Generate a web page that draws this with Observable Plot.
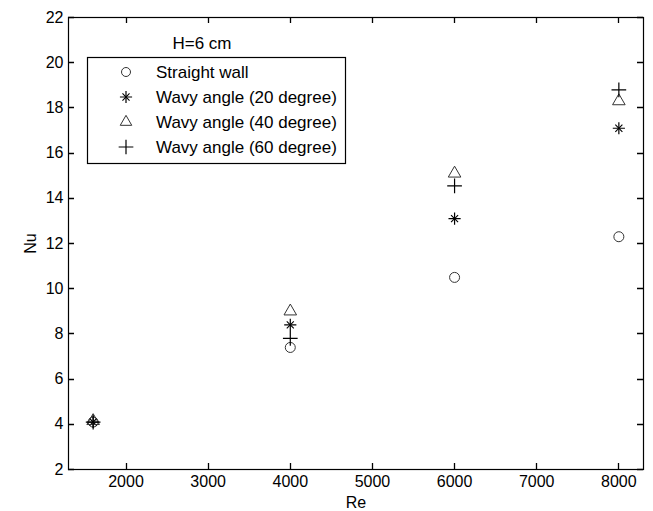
<!DOCTYPE html>
<html>
<head>
<meta charset="utf-8">
<script src="https://cdn.jsdelivr.net/npm/d3@7"></script>
<script src="https://cdn.jsdelivr.net/npm/@observablehq/plot@0.6"></script>
<style>
  html, body { margin: 0; padding: 0; background: #fff; }
  #chart { width: 653px; height: 511px; overflow: hidden; }
  svg { font-family: "Liberation Sans", Arial, sans-serif; }
</style>
</head>
<body>
<div id="chart"></div>
<script>
// ---- data ----
const reValues = [1600, 4000, 6000, 8000];
const straightWall = [4.1, 7.4, 10.5, 12.3];
const wavy20 = [4.1, 8.4, 13.1, 17.1];
const wavy40 = [4.15, 9.0, 15.1, 18.3];
const wavy60 = [4.1, 7.8, 14.55, 18.8];
const xTicks = [2000, 3000, 4000, 5000, 6000, 7000, 8000];
const yTicks = [2, 4, 6, 8, 10, 12, 14, 16, 18, 20, 22];
const seriesNames = ["Straight wall", "Wavy angle (20 degree)", "Wavy angle (40 degree)", "Wavy angle (60 degree)"];
const legendTitle = "H=6 cm";

const W = 653, H = 511;
const mL = 68, mR = 10, mT = 17, mB = 42;
const xDomain = [1300, 8300], yDomain = [2, 22];
const tickLen = 6;

const rows = (ys) => reValues.map((x, i) => ({x, y: ys[i]}));

const chart = Plot.plot({
  width: W,
  height: H,
  marginLeft: mL,
  marginRight: mR,
  marginTop: mT,
  marginBottom: mB,
  style: {fontFamily: '"Liberation Sans", Arial, sans-serif', fontSize: "16px", background: "#fff", color: "#000"},
  x: {domain: xDomain},
  y: {domain: yDomain},
  marks: [
    Plot.axisX({ticks: xTicks, tickSize: 0, tickPadding: 6, tickFormat: d => String(d), fontSize: 16,
      label: "Re", labelAnchor: "center", labelArrow: "none", labelOffset: 38}),
    Plot.axisY({ticks: yTicks, tickSize: 0, tickPadding: 5, tickFormat: d => String(d), fontSize: 16,
      label: "Nu", labelAnchor: "center", labelArrow: "none", labelOffset: 44}),
    Plot.frame({stroke: "#000", strokeWidth: 1.2}),
    // data
    Plot.dot(rows(straightWall), {x: "x", y: "y", symbol: "circle", r: 5, fill: "none", stroke: "#333", strokeWidth: 1}),
    Plot.dot(rows(wavy20), {x: "x", y: "y", symbol: "plus", r: 4, stroke: "#000", strokeWidth: 1.2}),
    Plot.dot(rows(wavy20), {x: "x", y: "y", symbol: "times", r: 3.3, stroke: "#000", strokeWidth: 1.1}),
    Plot.dot(rows(wavy40), {x: "x", y: "y", symbol: "triangle2", r: 6, fill: "none", stroke: "#333", strokeWidth: 1}),
    Plot.dot(rows(wavy60), {x: "x", y: "y", symbol: "plus", r: 4.8, stroke: "#000", strokeWidth: 1.2})
  ]
});

document.getElementById("chart").appendChild(chart);

const svg = d3.select(chart);

// ---- inward ticks on all four sides, placed with the plot's scales ----
const sx = chart.scale("x"), sy = chart.scale("y");
const xs = d3.scaleLinear().domain(sx.domain).range(sx.range);
const ys = d3.scaleLinear().domain(sy.domain).range(sy.range);
const x0 = xs(xDomain[0]), x1 = xs(xDomain[1]), y0 = ys(yDomain[0]), y1 = ys(yDomain[1]);
let d = "";
xTicks.forEach(v => {
  const px = Math.round(xs(v)) + 0.5;
  d += `M${px},${y0}V${y0 - tickLen}M${px},${y1}V${y1 + tickLen}`;
});
yTicks.forEach(v => {
  const py = Math.round(ys(v)) + 0.5;
  d += `M${x0},${py}H${x0 + tickLen}M${x1},${py}H${x1 - tickLen}`;
});
svg.append("g").attr("class", "inner-ticks").append("path").attr("d", d)
  .style("fill", "none").style("stroke", "#000").style("stroke-width", "1.3px");

// ---- legend ----
const lg = svg.append("g")
  .attr("font-family", '"Liberation Sans", Arial, sans-serif')
  .attr("font-size", 17)
  .attr("text-anchor", "start");
lg.append("text").attr("x", 202).attr("y", 49).attr("text-anchor", "middle").attr("fill", "#000").text(legendTitle);
lg.append("rect").attr("x", 87.5).attr("y", 57.5).attr("width", 258).attr("height", 106)
  .attr("fill", "#fff").attr("stroke", "#000").attr("stroke-width", 1.2);
const rowY = [72, 97, 122, 147];
const symX = 126, txtX = 156;
const sym = (type, r) => d3.symbol(type, Math.PI * r * r)();
seriesNames.forEach((name, i) => {
  const g = lg.append("g").attr("transform", `translate(${symX},${rowY[i]})`);
  if (i === 0) g.append("circle").attr("r", 4.5).attr("fill", "none").attr("stroke", "#333");
  if (i === 1) {
    g.append("path").attr("d", sym(d3.symbolPlus, 4)).attr("fill", "none").attr("stroke", "#000").attr("stroke-width", 1.2);
    g.append("path").attr("d", sym(d3.symbolTimes, 3.3)).attr("fill", "none").attr("stroke", "#000").attr("stroke-width", 1.1);
  }
  if (i === 2) g.append("path").attr("d", sym(d3.symbolTriangle2, 5.5)).attr("fill", "none").attr("stroke", "#333");
  if (i === 3) g.append("path").attr("d", sym(d3.symbolPlus, 4.8)).attr("fill", "none").attr("stroke", "#000").attr("stroke-width", 1.2);
  lg.append("text").attr("x", txtX).attr("y", rowY[i]).attr("dy", "0.35em").attr("text-anchor", "start").attr("fill", "#000").text(name);
});
</script>
</body>
</html>
